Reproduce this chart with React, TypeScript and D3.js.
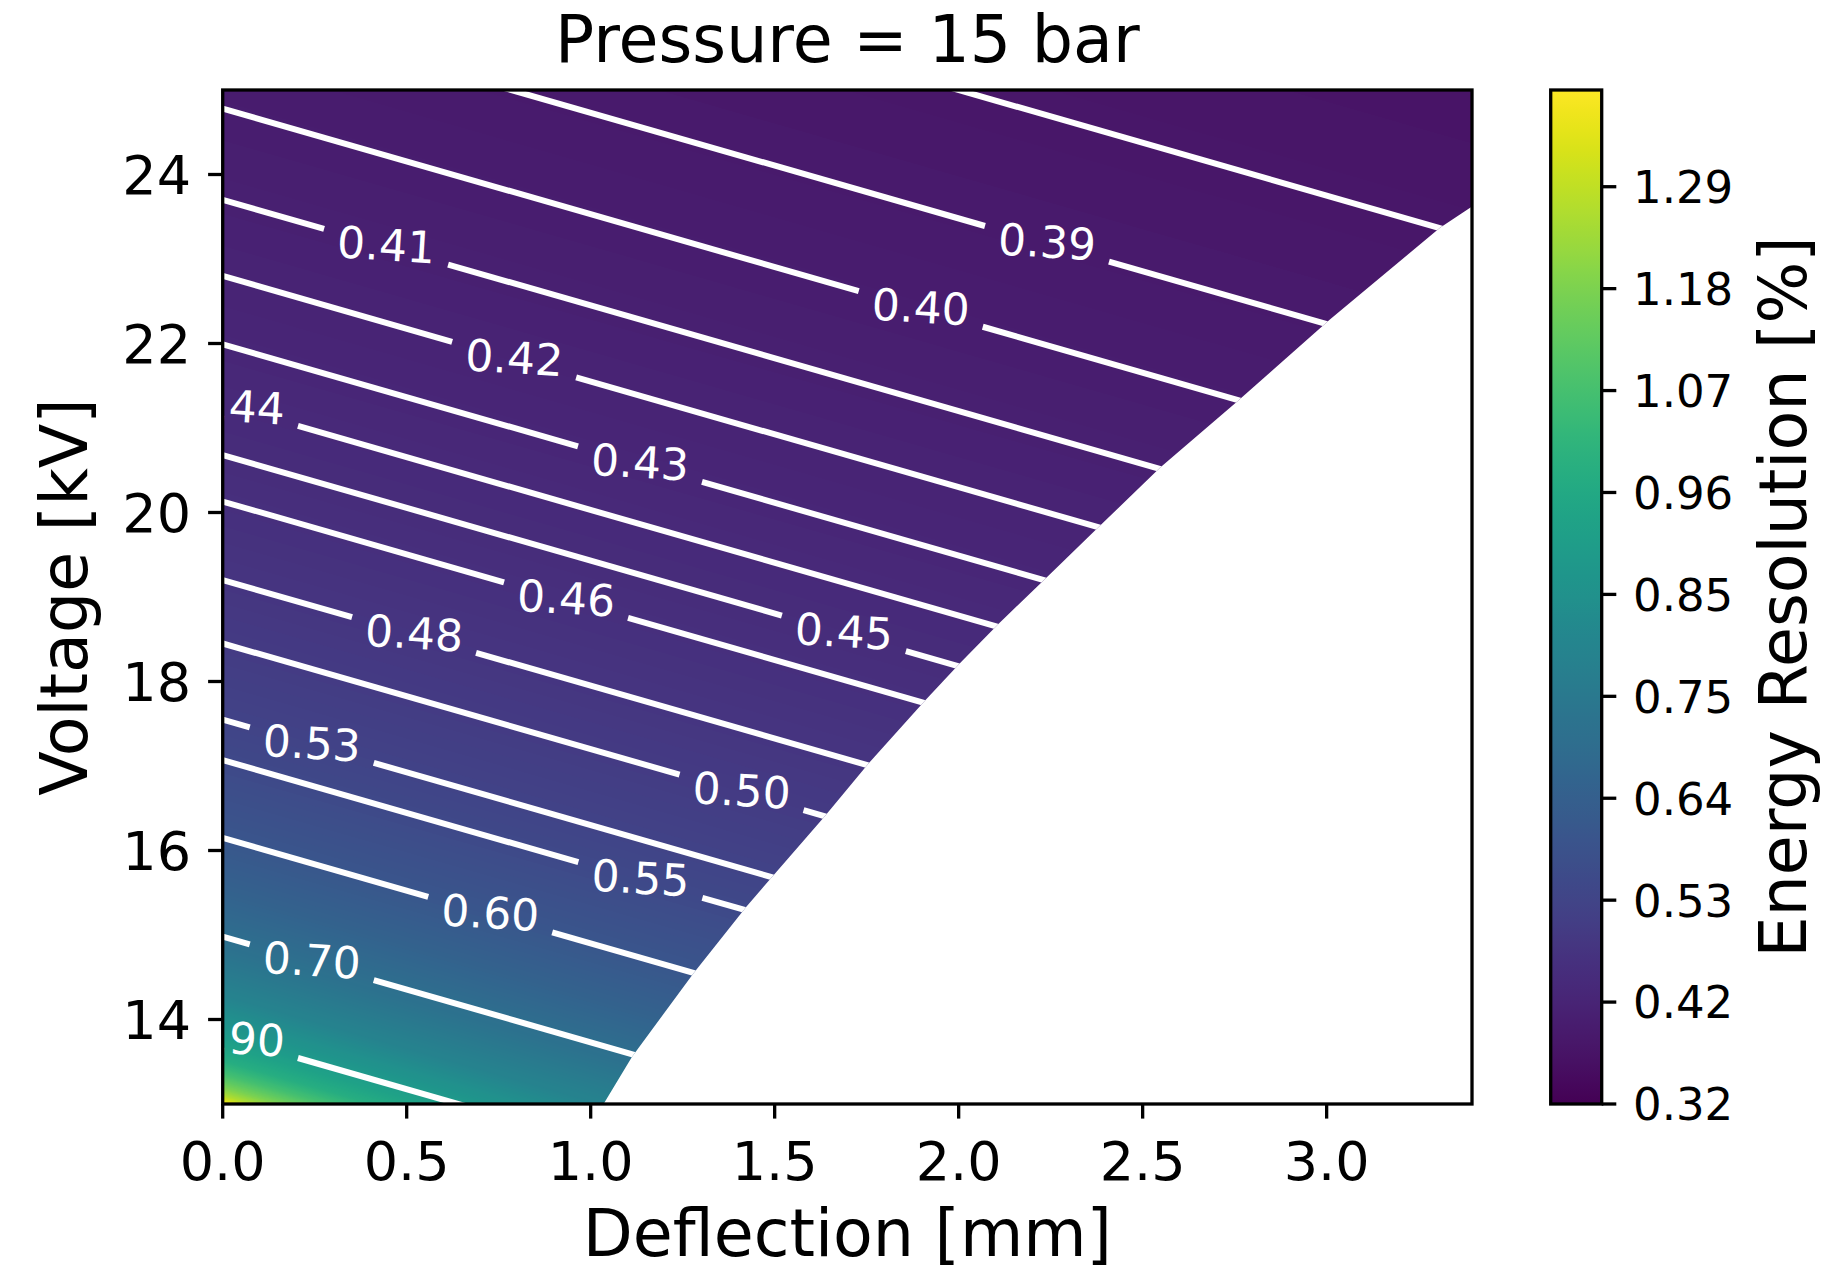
import React, { useMemo } from 'react';
import * as d3 from 'd3';

// ---------- data ----------
const xTicks = [0, 0.5, 1.0, 1.5, 2.0, 2.5, 3.0];
const yTicks = [14, 16, 18, 20, 22, 24];
const cbarTicks = [0.3155, 0.4233, 0.5311, 0.6389, 0.7467, 0.8545, 0.9623, 1.0701, 1.1779, 1.2857];
const cbarLabels = ['0.32', '0.42', '0.53', '0.64', '0.75', '0.85', '0.96', '1.07', '1.18', '1.29'];
const colorMin = 0.3155;
const colorMax = 1.388;

// energy resolution profile along iso-lines: intercept voltage at zero deflection -> value
const profileVoltage = [13.0, 13.1, 13.2, 13.35, 13.52, 13.8, 14.3, 14.98, 15.5, 16.15, 17.07, 17.55, 18.45, 19.2, 20.13, 20.68, 21.28, 21.99, 22.8, 23.7, 24.78, 25.98, 27.5, 29.4];
const profileValue = [1.388, 1.26, 1.17, 1.07, 0.98, 0.9, 0.79, 0.7, 0.65, 0.6, 0.55, 0.53, 0.5, 0.48, 0.46, 0.45, 0.44, 0.43, 0.42, 0.41, 0.4, 0.39, 0.38, 0.37];
// iso-lines drop this many kV per mm of deflection
const isolineSlope = 1.25;

// edge of the region with data (below/right of it is empty)
const boundaryDeflection = [1.035, 1.112, 1.279, 1.423, 1.501, 1.635, 1.755, 1.91, 2.004, 2.11, 2.232, 2.381, 2.547, 2.753, 3.008, 3.308, 3.395];
const boundaryVoltage = [13.0, 13.557, 14.545, 15.334, 15.729, 16.4, 17.03, 17.78, 18.22, 18.69, 19.2, 19.83, 20.53, 21.3, 22.28, 23.37, 23.62];

const contourLevels = [0.38, 0.39, 0.4, 0.41, 0.42, 0.43, 0.44, 0.45, 0.46, 0.48, 0.5, 0.53, 0.55, 0.6, 0.7, 0.9];
const contourLabelDeflection = [null, 2.24, 1.897, 0.444, 0.792, 1.134, 0.036, 1.688, 0.933, 0.52, 1.41, 0.242, 1.135, 0.727, 0.242, 0.036];

const xDomain = [0, 3.395];
const yDomain = [13, 25];

// ---------- layout ----------
const W = 1831;
const H = 1271;
const P = { left: 222.7, right: 1472, top: 90, bottom: 1104 };
const CB = { left: 1550.7, right: 1601.7 };
const FONT = '"DejaVu Sans", Verdana, sans-serif';

export default function App() {
  const x = d3.scaleLinear().domain(xDomain).range([P.left, P.right]);
  const y = d3.scaleLinear().domain(yDomain).range([P.bottom, P.top]);
  const profile = d3.scaleLinear().domain(profileVoltage).range(profileValue).clamp(true);
  const color = d3.scaleSequential(d3.interpolateViridis).domain([colorMin, colorMax]);
  const cb = d3.scaleLinear().domain([colorMin, colorMax]).range([P.bottom, P.top]);

  const heatmapURL = useMemo(() => {
    const w = Math.round(P.right - P.left);
    const h = Math.round(P.bottom - P.top);
    const canvas = document.createElement('canvas');
    canvas.width = w;
    canvas.height = h;
    const ctx = canvas.getContext('2d');
    if (!ctx) return '';
    const img = ctx.createImageData(w, h);
    const uMin = 12.9, uMax = 29.6, N = 4096;
    const lut = new Uint8ClampedArray(N * 3);
    for (let i = 0; i < N; i++) {
      const u = uMin + ((uMax - uMin) * i) / (N - 1);
      const c = d3.rgb(color(profile(u)));
      lut[i * 3] = c.r;
      lut[i * 3 + 1] = c.g;
      lut[i * 3 + 2] = c.b;
    }
    for (let j = 0; j < h; j++) {
      const V = y.invert(P.top + ((j + 0.5) * (P.bottom - P.top)) / h);
      for (let i = 0; i < w; i++) {
        const d = x.invert(P.left + ((i + 0.5) * (P.right - P.left)) / w);
        const u = V + isolineSlope * d;
        let k = Math.round(((u - uMin) / (uMax - uMin)) * (N - 1));
        k = Math.max(0, Math.min(N - 1, k));
        const o = (j * w + i) * 4;
        img.data[o] = lut[k * 3];
        img.data[o + 1] = lut[k * 3 + 1];
        img.data[o + 2] = lut[k * 3 + 2];
        img.data[o + 3] = 255;
      }
    }
    ctx.putImageData(img, 0, 0);
    return canvas.toDataURL();
  }, []);

  // valid-region clip polygon
  const regionPts: [number, number][] = [[x(0), y(13)]];
  boundaryDeflection.forEach((d, i) => regionPts.push([x(d), y(boundaryVoltage[i])]));
  regionPts.push([x(xDomain[1]), y(yDomain[1])]);
  regionPts.push([x(0), y(yDomain[1])]);
  const regionPath = d3.line()(regionPts) + 'Z';

  const line = d3.line<[number, number]>().x((p) => p[0]).y((p) => p[1]);
  const gapPx = 62;

  const contours = contourLevels.map((lev, i) => {
    const u = profile.invert(lev);
    const vAt = (d: number) => u - isolineSlope * d;
    const dl = contourLabelDeflection[i];
    const segs: [number, number][] = [];
    if (dl == null) {
      segs.push([xDomain[0], xDomain[1]]);
    } else {
      const a = x.invert(x(dl) - gapPx);
      const b = x.invert(x(dl) + gapPx);
      if (a > xDomain[0]) segs.push([xDomain[0], a]);
      segs.push([b, xDomain[1]]);
    }
    const paths = segs.map(([d0, d1]) =>
      line([
        [x(d0), y(vAt(d0))],
        [x(d1), y(vAt(d1))],
      ])
    );
    const label =
      dl == null
        ? null
        : { cx: x(dl), cy: y(vAt(dl)), text: d3.format('.2f')(lev) };
    return { paths, label, lev };
  });

  const gradStops = d3.range(0, 1.0001, 0.02);

  return (
    <svg
      width={W}
      height={H}
      viewBox={`0 0 ${W} ${H}`}
      style={{ position: 'absolute', left: 0, top: 0, background: '#fff' }}
      fontFamily={FONT}
    >
      <defs>
        <clipPath id="plotArea">
          <rect x={P.left} y={P.top} width={P.right - P.left} height={P.bottom - P.top} />
        </clipPath>
        <clipPath id="validRegion">
          <path d={regionPath} />
        </clipPath>
        <linearGradient id="cbarGrad" x1="0" y1="1" x2="0" y2="0">
          {gradStops.map((t) => (
            <stop key={t} offset={t} stopColor={d3.interpolateViridis(t)} />
          ))}
        </linearGradient>
      </defs>

      <rect x={0} y={0} width={W} height={H} fill="#fff" />

      {/* heatmap */}
      <g clipPath="url(#plotArea)">
        <g clipPath="url(#validRegion)">
          <image
            href={heatmapURL}
            x={P.left}
            y={P.top}
            width={P.right - P.left}
            height={P.bottom - P.top}
            preserveAspectRatio="none"
          />
          {contours.map((c) =>
            c.paths.map((p, k) => (
              <path key={`${c.lev}-${k}`} d={p || ''} stroke="#fff" strokeWidth={6} fill="none" />
            ))
          )}
        </g>
        {contours.map((c) =>
          c.label ? (
            <text
              key={`lab-${c.lev}`}
              x={c.label.cx}
              y={c.label.cy}
              dy="0.31em"
              textAnchor="middle"
              fontSize={44}
              fill="#fff"
              transform={`rotate(3.5 ${c.label.cx} ${c.label.cy})`}
            >
              {c.label.text}
            </text>
          ) : null
        )}
      </g>

      {/* axes frame */}
      <rect
        x={P.left}
        y={P.top}
        width={P.right - P.left}
        height={P.bottom - P.top}
        fill="none"
        stroke="#000"
        strokeWidth={3.3}
      />

      {/* x ticks */}
      {xTicks.map((t) => (
        <g key={`xt${t}`}>
          <line x1={x(t)} x2={x(t)} y1={P.bottom} y2={P.bottom + 14.6} stroke="#000" strokeWidth={3.3} />
          <text x={x(t)} y={1180} textAnchor="middle" fontSize={54}>
            {d3.format('.1f')(t)}
          </text>
        </g>
      ))}
      {/* y ticks */}
      {yTicks.map((t) => (
        <g key={`yt${t}`}>
          <line x1={P.left - 14.6} x2={P.left} y1={y(t)} y2={y(t)} stroke="#000" strokeWidth={3.3} />
          <text x={191} y={y(t) + 19.7} textAnchor="end" fontSize={54}>
            {t}
          </text>
        </g>
      ))}

      {/* titles */}
      <text x={(P.left + P.right) / 2} y={61.7} textAnchor="middle" fontSize={65}>
        Pressure = 15 bar
      </text>
      <text x={(P.left + P.right) / 2} y={1256} textAnchor="middle" fontSize={65}>
        Deflection [mm]
      </text>
      <text
        transform={`translate(87, ${(P.top + P.bottom) / 2}) rotate(-90)`}
        textAnchor="middle"
        fontSize={65}
      >
        Voltage [kV]
      </text>

      {/* colorbar */}
      <rect
        x={CB.left}
        y={P.top}
        width={CB.right - CB.left}
        height={P.bottom - P.top}
        fill="url(#cbarGrad)"
      />
      <rect
        x={CB.left}
        y={P.top}
        width={CB.right - CB.left}
        height={P.bottom - P.top}
        fill="none"
        stroke="#000"
        strokeWidth={3.3}
      />
      {cbarTicks.map((t, i) => (
        <g key={`cb${i}`}>
          <line x1={CB.right} x2={CB.right + 14.6} y1={cb(t)} y2={cb(t)} stroke="#000" strokeWidth={3.3} />
          <text x={1633} y={cb(t) + 16.4} textAnchor="start" fontSize={45}>
            {cbarLabels[i]}
          </text>
        </g>
      ))}
      <text
        transform={`translate(1806, ${(P.top + P.bottom) / 2}) rotate(-90)`}
        textAnchor="middle"
        fontSize={65}
      >
        Energy Resolution [%]
      </text>
    </svg>
  );
}
